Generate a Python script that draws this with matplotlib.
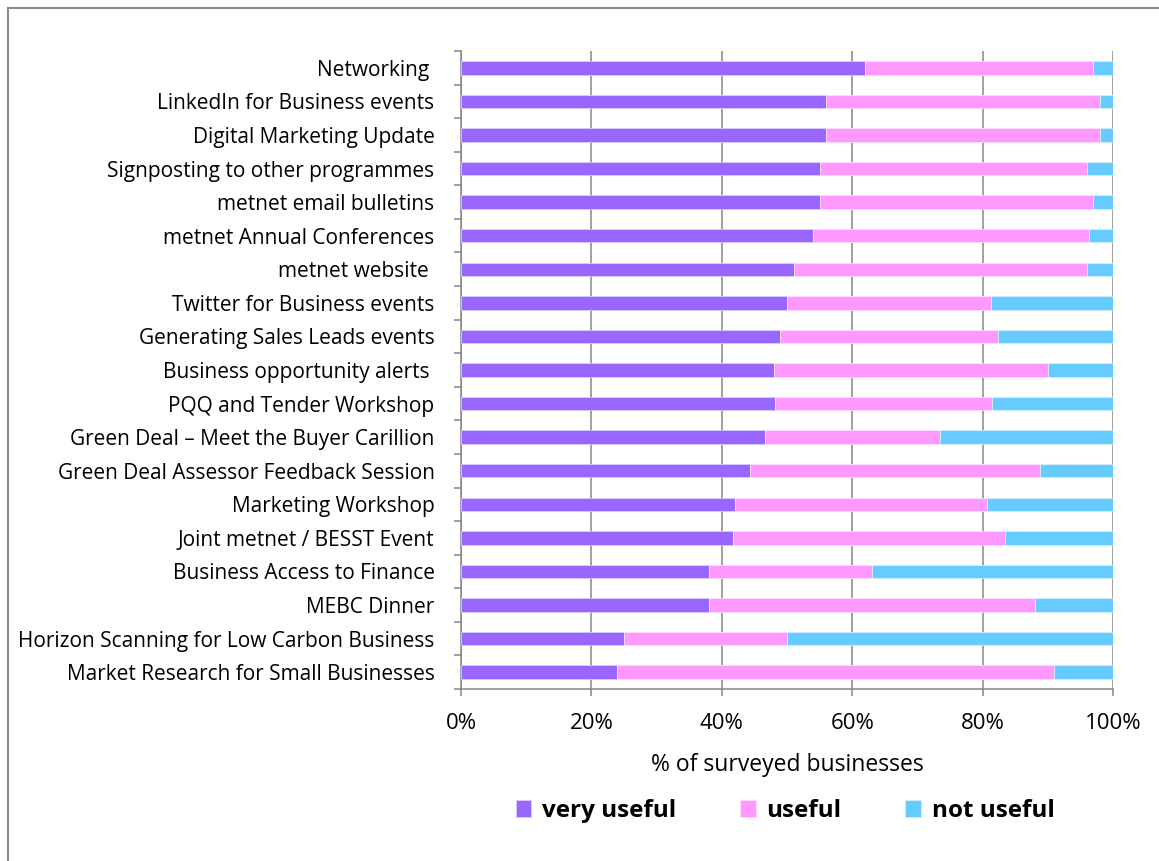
import matplotlib.pyplot as plt
from matplotlib.lines import Line2D
from matplotlib.ticker import PercentFormatter, MultipleLocator
import numpy as np

# survey results: how useful businesses found each metnet service (%)
services = ['Networking ', 'LinkedIn for Business events', 'Digital Marketing Update',
            'Signposting to other programmes', 'metnet email bulletins',
            'metnet Annual Conferences', 'metnet website ', 'Twitter for Business events',
            'Generating Sales Leads events', 'Business opportunity alerts ',
            'PQQ and Tender Workshop', 'Green Deal \u2013 Meet the Buyer Carillion',
            'Green Deal Assessor Feedback Session', 'Marketing Workshop',
            'Joint metnet / BESST Event', 'Business Access to Finance', 'MEBC Dinner',
            'Horizon Scanning for Low Carbon Business', 'Market Research for Small Businesses']

very_useful = [62, 56, 56, 55, 55, 54, 51, 50, 49, 48, 48.1, 46.7, 44.4, 42.1, 41.7, 38, 38, 25, 24]
useful = [35, 42, 42, 41, 42, 42.3, 45, 31.3, 33.3, 42, 33.3, 26.7, 44.4, 38.6, 41.7, 25, 50, 25, 67]
not_useful = [3, 2, 2, 4, 3, 3.7, 4, 18.7, 17.7, 10, 18.6, 26.6, 11.2, 19.3, 16.6, 37, 12, 50, 9]

c_very = '#9966FF'
c_use = '#FF99FF'
c_not = '#66CCFF'

plt.rcParams['font.family'] = ['Open Sans', 'DejaVu Sans']

fig = plt.figure(figsize=(11.59, 8.61), dpi=100)
ax = fig.add_axes([461/1159, 1-689/861, 652/1159, 638/861])

y = np.arange(len(services))
vu = np.array(very_useful)
us = np.array(useful)
nu = np.array(not_useful)
h = 0.4
ax.barh(y, vu, height=h, color=c_very, edgecolor='#d8ccff', linewidth=0.6, label='very useful', zorder=3)
ax.barh(y, us, left=vu, height=h, color=c_use, edgecolor='#ffe0ff', linewidth=0.6, label='useful', zorder=3)
ax.barh(y, nu, left=vu+us, height=h, color=c_not, edgecolor='#d8f0ff', linewidth=0.6, label='not useful', zorder=3)

ax.set_xlim(0, 100)
ax.set_ylim(len(services)-0.5, -0.5)
ax.xaxis.set_major_locator(MultipleLocator(20))
ax.xaxis.set_major_formatter(PercentFormatter(decimals=0))
ax.grid(axis='x', color='#868686', linewidth=1.1, zorder=0)

ax.set_yticks(y)
ax.set_yticklabels(services, fontsize=15)
ax.set_yticks(np.arange(len(services)+1)-0.5, minor=True)
ax.tick_params(axis='y', which='major', length=0, pad=19)
ax.tick_params(axis='y', which='minor', length=5, color='#868686', width=1.1)
ax.tick_params(axis='x', length=5, color='#868686', width=1.1, labelsize=16, pad=12)

for s in ['top', 'right']:
    ax.spines[s].set_visible(False)
for s in ['left', 'bottom']:
    ax.spines[s].set_color('#868686')
    ax.spines[s].set_linewidth(1.1)

ax.set_xlabel('% of surveyed businesses', fontsize=16.5, labelpad=14)

leg = fig.legend(loc='center', bbox_to_anchor=(785/1159, 1-811/861), ncol=3, frameon=False,
                 prop={'size': 17.5, 'weight': 'bold'}, handlelength=0.65, handleheight=0.65,
                 handletextpad=0.45, columnspacing=2.6)

# chart area border (top and left edges)
fig.add_artist(Line2D([8/1159, 1], [1-8/861, 1-8/861], color='#8c8c8c', linewidth=1.5))
fig.add_artist(Line2D([8/1159, 8/1159], [0, 1-8/861], color='#8c8c8c', linewidth=1.5))

fig.savefig('out.png', dpi=100, facecolor='white')
